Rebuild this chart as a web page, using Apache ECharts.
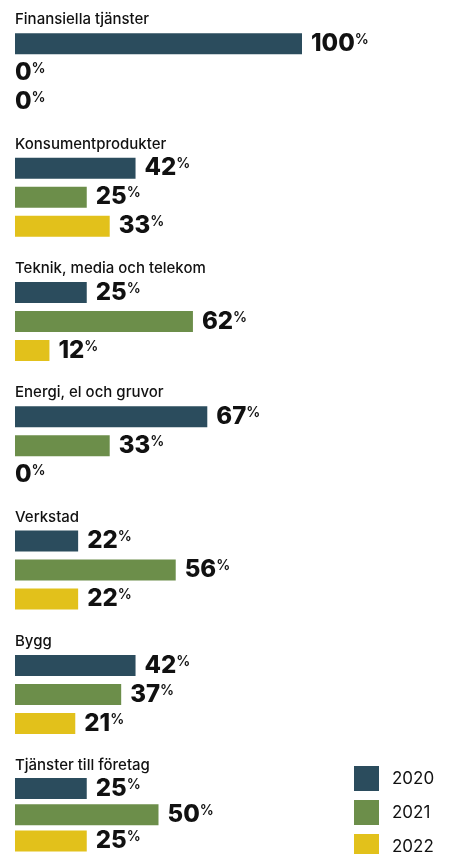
<!DOCTYPE html>
<html><head><meta charset="utf-8">
<script src="https://cdn.jsdelivr.net/npm/echarts@6/dist/echarts.min.js"></script>
<style>html,body{margin:0;padding:0;background:#fff}#c{width:454px;height:854px}</style>
</head><body><div id="c"></div>
<script>
const categories = ['Finansiella tjänster','Konsumentprodukter','Teknik, media och telekom','Energi, el och gruvor','Verkstad','Bygg','Tjänster till företag'];
const years = ['2020','2021','2022'];
const values2020 = [100, 42, 25, 67, 22, 42, 25];
const values2021 = [0, 25, 62, 33, 56, 37, 50];
const values2022 = [0, 33, 12, 0, 22, 21, 25];
const colors = ['#2B4C5D', '#6C8E4A', '#E2C11B'];

const yearValues = [values2020, values2021, values2022];
const GROUP = 124.33, FIRST = 33.3, BAND = 29, BAR = 21;
const grids = [], xAxes = [], yAxes = [], series = [], titles = [];
categories.forEach((cat, k) => {
  const barTop = FIRST + GROUP * k;
  grids.push({left: 15, width: 287, top: barTop - (BAND - BAR) / 2, height: BAND * 3});
  xAxes.push({type: 'value', gridIndex: k, min: 0, max: 100, show: false});
  yAxes.push({type: 'category', gridIndex: k, data: years, inverse: true, show: false});
  titles.push({text: cat, left: 15, top: barTop - 21, padding: 0,
    textStyle: {fontFamily: 'Inter', fontSize: 15, fontWeight: 500, color: '#111'}});
  years.forEach((y, j) => {
    const data = years.map((_, i) => {
      if (i !== j) return '-';
      const v = yearValues[j][k];
      return v === 0 ? {value: v, label: {distance: 0}} : v;
    });
    series.push({
      type: 'bar', name: y, xAxisIndex: k, yAxisIndex: k, data: data,
      barWidth: BAR, barGap: '-100%', itemStyle: {color: colors[j]},
      silent: true, animation: false,
      label: {
        show: true, position: 'right', distance: 9,
        formatter: p => '{n|' + p.value + '}{p|%}',
        rich: {
          n: {fontFamily: 'Inter', fontSize: 24, fontWeight: 800, color: '#111'},
          p: {fontFamily: 'Inter', fontSize: 14, fontWeight: 600, color: '#111', verticalAlign: 'top', padding: [1, 0, 0, 0]}
        }
      }
    });
  });
});

const chart = echarts.init(document.getElementById('c'));
chart.setOption({
  animation: false,
  title: titles,
  grid: grids, xAxis: xAxes, yAxis: yAxes, series: series,
  legend: {
    data: years, orient: 'vertical', left: 354, top: 766, height: 200, padding: 0,
    itemWidth: 25, itemHeight: 25, itemGap: 9, icon: 'rect',
    textStyle: {fontFamily: 'Inter', fontSize: 17, color: '#111', padding: [0, 0, 0, 8]}
  }
});
</script></body></html>
